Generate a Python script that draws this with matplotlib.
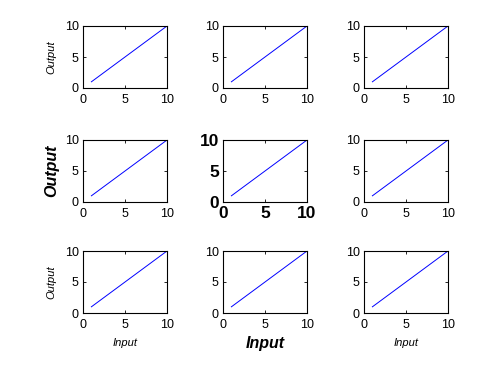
import matplotlib.pyplot as plt

# data: same line in every panel
x_vals = [1, 2, 3, 4, 5, 6, 7, 8, 9, 10]
y_vals = [1, 2, 3, 4, 5, 6, 7, 8, 9, 10]
ticks = [0, 5, 10]
x_label = "Input"
y_label = "Output"

W, H = 500, 375
col_left = [83, 223, 364]
row_top = [26, 140, 251]
ax_w, ax_h = 84, 62

plt.rcParams["font.family"] = ["Liberation Sans", "DejaVu Sans"]

fig = plt.figure(figsize=(5, 3.75), dpi=100)
fig.patch.set_facecolor("white")

for r in range(3):
    for c in range(3):
        left = col_left[c] / W
        bottom = 1 - (row_top[r] + ax_h) / H
        ax = fig.add_axes([left, bottom, ax_w / W, ax_h / H])
        ax.plot(x_vals, y_vals, color="blue", linewidth=0.7)
        ax.set_xlim(0, 10)
        ax.set_ylim(0, 10)
        ax.set_xticks(ticks)
        ax.set_yticks(ticks)
        ax.tick_params(direction="in", length=2, width=0.6, top=True, right=True,
                       labelsize=9)
        ax.tick_params(axis="x", pad=4)
        ax.tick_params(axis="y", pad=3)
        for s in ax.spines.values():
            s.set_linewidth(0.8)

        if r == 1 and c == 1:
            ax.tick_params(labelsize=12.5)
            ax.tick_params(axis="x", pad=3)
            for lab in ax.get_xticklabels() + ax.get_yticklabels():
                lab.set_fontweight("bold")

        if c == 0:
            if r == 1:
                ax.set_ylabel(y_label, fontsize=11.5, fontstyle="italic",
                              fontweight="bold", labelpad=4)
            else:
                ax.set_ylabel(y_label, fontsize=8, fontstyle="italic", labelpad=6)
        if r == 2:
            if c == 1:
                ax.set_xlabel(x_label, fontsize=11.5, fontstyle="italic",
                              fontweight="bold", labelpad=4)
            else:
                ax.set_xlabel(x_label, fontsize=8, fontstyle="italic", labelpad=5)

fig.savefig("out.png", dpi=100, facecolor="white")
